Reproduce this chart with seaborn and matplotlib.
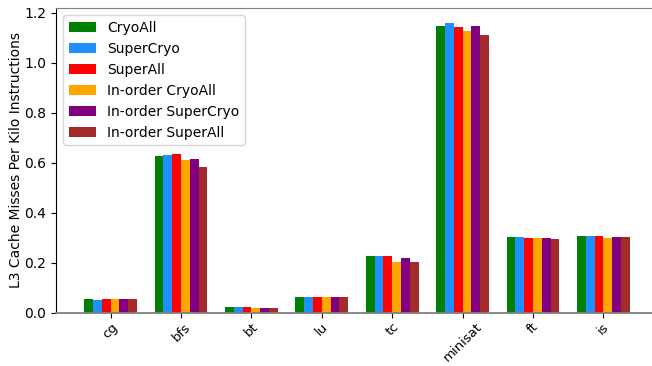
import pandas as pd
import seaborn as sns
import matplotlib
matplotlib.use("Agg")
import matplotlib.pyplot as plt

benchmarks = ["cg", "bfs", "bt", "lu", "tc", "minisat", "ft", "is"]
configs = ["CryoAll", "SuperCryo", "SuperAll", "In-order CryoAll", "In-order SuperCryo", "In-order SuperAll"]
colors = ["green", "dodgerblue", "red", "orange", "purple", "brown"]

cryo_all = [0.055, 0.628, 0.023, 0.063, 0.227, 1.147, 0.303, 0.307]
super_cryo = [0.051, 0.632, 0.023, 0.063, 0.227, 1.159, 0.303, 0.307]
super_all = [0.055, 0.636, 0.023, 0.063, 0.227, 1.143, 0.299, 0.307]
io_cryo_all = [0.055, 0.611, 0.019, 0.063, 0.203, 1.127, 0.299, 0.299]
io_super_cryo = [0.055, 0.615, 0.019, 0.063, 0.219, 1.147, 0.299, 0.303]
io_super_all = [0.055, 0.583, 0.019, 0.063, 0.203, 1.111, 0.295, 0.303]

series = [cryo_all, super_cryo, super_all, io_cryo_all, io_super_cryo, io_super_all]
rows = []
for name, vals in zip(configs, series):
    for b, v in zip(benchmarks, vals):
        rows.append({"bench": b, "config": name, "mpki": v})
df = pd.DataFrame(rows)

fig = plt.figure(figsize=(6.52, 3.66), dpi=100)
ax = fig.add_axes([0.086, 0.146, 0.914, 0.831])

sns.barplot(data=df, x="bench", y="mpki", hue="config", hue_order=configs,
            palette=colors, width=0.75, gap=0, saturation=1, ax=ax)

ax.set_xlim(-0.773, 7.69)
ax.set_ylim(0, 1.218)
ax.set_xlabel("")
ax.set_ylabel("L3 Cache Misses Per Kilo Instructions", labelpad=1)
ax.set_xticks(range(len(benchmarks)))
ax.set_xticklabels(benchmarks, rotation=45, fontsize=9.5)
ax.tick_params(axis="x", pad=2)
ax.spines["right"].set_visible(False)
ax.spines["top"].set_color("gray")
ax.spines["bottom"].set_color("gray")
ax.spines["bottom"].set_linewidth(1.3)
ax.legend(loc="upper left", title=None)

plt.savefig("out.png", dpi=100)
